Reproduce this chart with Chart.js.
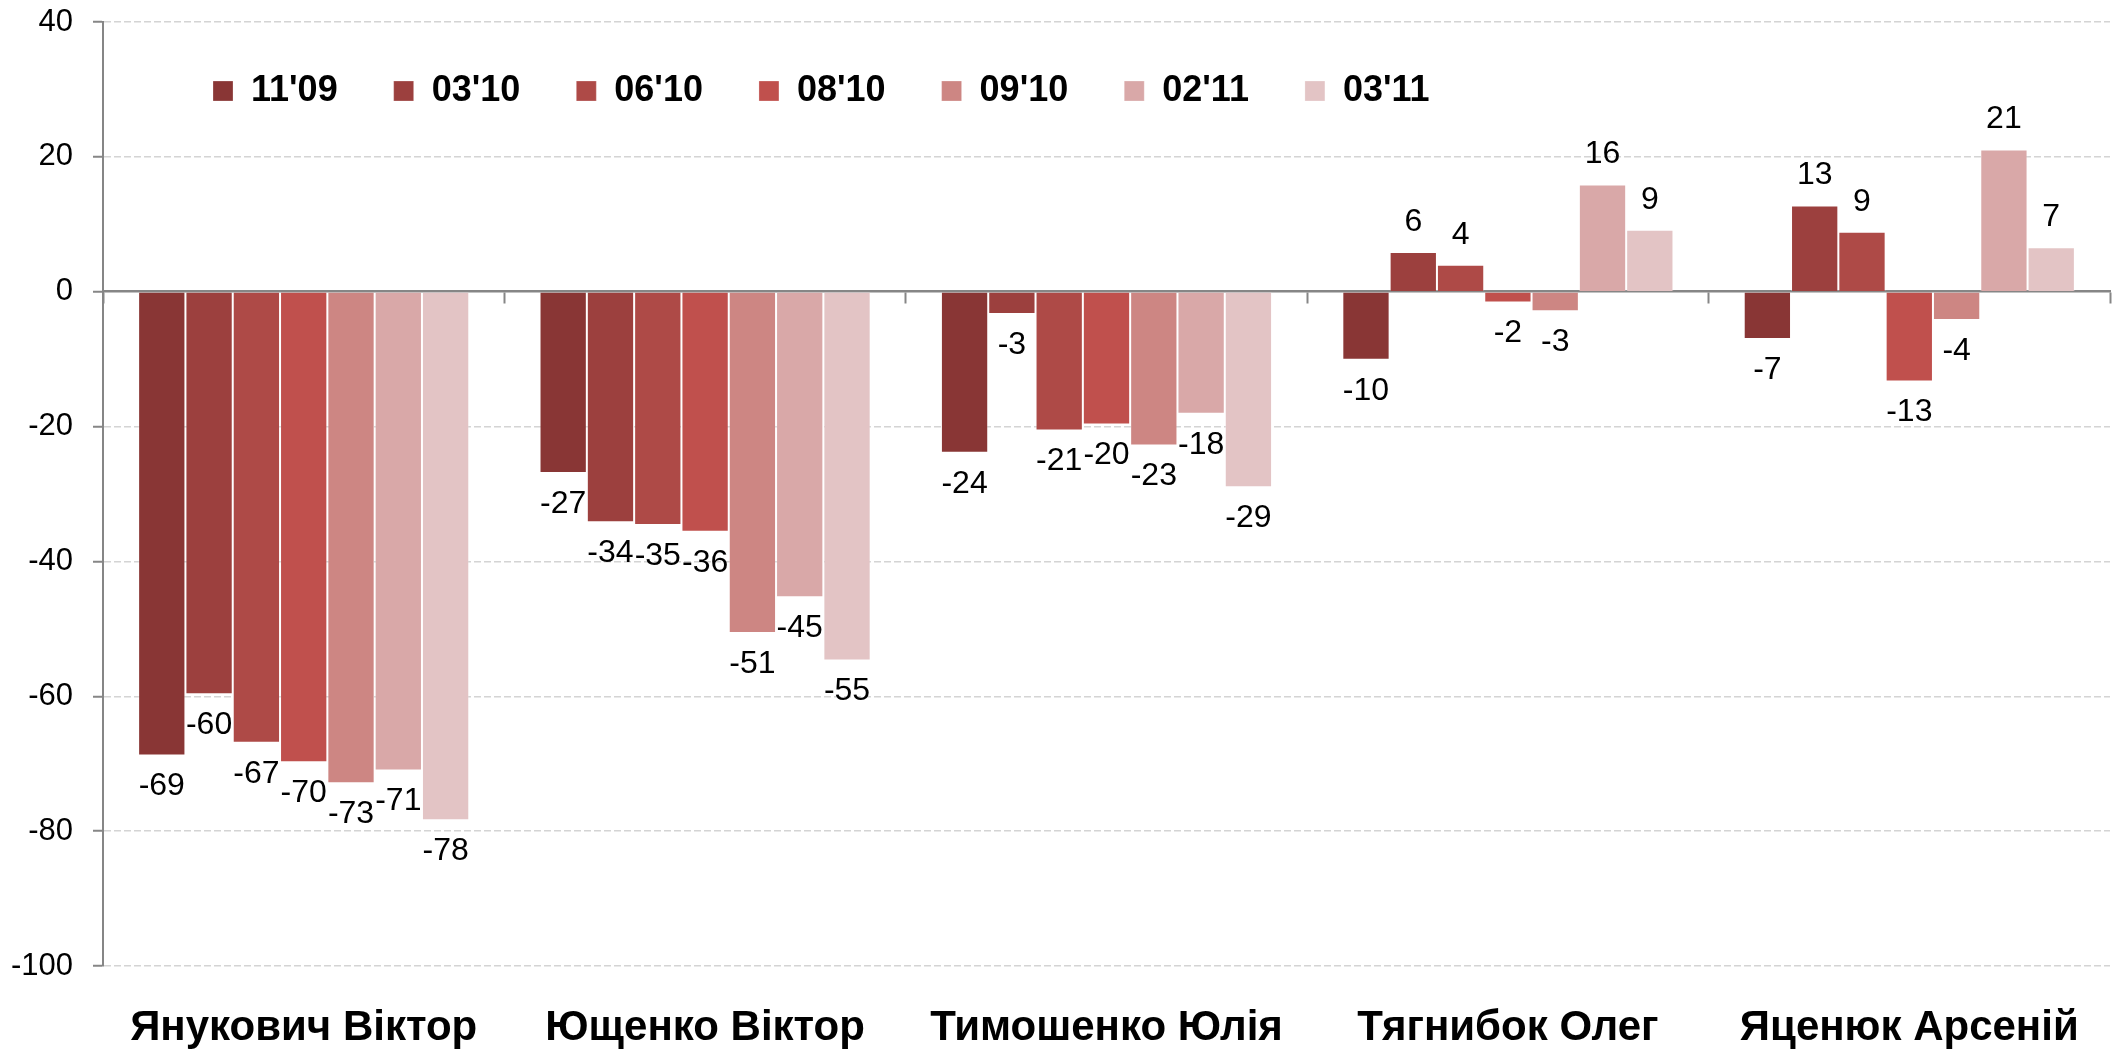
<!DOCTYPE html>
<html>
<head>
<meta charset="utf-8">
<script src="https://cdn.jsdelivr.net/npm/chart.js@4/dist/chart.umd.min.js"></script>
<style>
  html, body { margin: 0; padding: 0; background: #fff; }
  #wrap { width: 2123px; height: 1054px; position: relative; }
</style>
</head>
<body>
<div id="wrap"><canvas id="c"></canvas></div>
<script>
// ---- Data ----
const categories = ['Янукович Віктор', 'Ющенко Віктор', 'Тимошенко Юлія', 'Тягнибок Олег', 'Яценюк Арсеній'];
const seriesNames = ["11'09", "03'10", "06'10", "08'10", "09'10", "02'11", "03'11"];
const s_11_09 = [-68.8, -26.9, -23.9, -10.1, -7.0];
const s_03_10 = [-59.7, -34.2, -3.3, 5.9, 12.8];
const s_06_10 = [-66.9, -34.6, -20.6, 4.0, 8.9];
const s_08_10 = [-69.8, -35.6, -19.7, -1.6, -13.3];
const s_09_10 = [-72.9, -50.6, -22.8, -2.9, -4.2];
const s_02_11 = [-71.0, -45.3, -18.1, 15.9, 21.1];
const s_03_11 = [-78.4, -54.7, -29.0, 9.2, 6.6];
const yMin = -100, yMax = 40, yStep = 20;

// ---- Styles ----
const seriesColors = ['#893635', '#9C403E', '#AE4A47', '#C0504D', '#CD8683', '#D9A8A8', '#E3C4C5'];
const allSeries = [s_11_09, s_03_10, s_06_10, s_08_10, s_09_10, s_02_11, s_03_11];
const FONT = "'Liberation Sans', Arial, sans-serif";
const AXIS_GRAY = '#868686';

Chart.defaults.font.family = FONT;
Chart.defaults.color = '#000';

const datasets = seriesNames.map((name, i) => ({
  label: name,
  data: allSeries[i],
  backgroundColor: seriesColors[i],
  borderColor: 'rgba(255,255,255,0.25)',
  borderWidth: 1,
  categoryPercentage: 0.825,
  barPercentage: 1.0
}));

// Data labels drawn at the bar elements' positions
const valueLabels = {
  id: 'valueLabels',
  afterDatasetsDraw(chart) {
    const ctx = chart.ctx;
    ctx.save();
    ctx.font = '32px ' + FONT;
    ctx.fillStyle = '#000';
    ctx.textAlign = 'center';
    ctx.textBaseline = 'middle';
    chart.data.datasets.forEach((ds, di) => {
      const meta = chart.getDatasetMeta(di);
      meta.data.forEach((el, i) => {
        const v = ds.data[i];
        const y = v >= 0 ? el.y - 30 : el.y + 31;
        ctx.fillText(String(Math.round(v)), el.x, y);
      });
    });
    ctx.restore();
  }
};

// Put the legend inside the plot area like the original
const legendPlacer = {
  id: 'legendPlacer',
  afterLayout(chart) {
    const lg = chart.legend;
    if (!lg) return;
    const pad = lg.options.labels.padding;
    const fs = 36;
    const ca = chart.chartArea;
    lg.left = ca.left + 110 - pad;
    lg.top = ca.top + 69 - pad - fs / 2;
    lg.bottom = lg.top + 200;
  }
};

new Chart(document.getElementById('c'), {
  type: 'bar',
  data: { labels: categories, datasets },
  options: {
    responsive: true,
    maintainAspectRatio: false,
    animation: false,
    devicePixelRatio: 1,
    layout: { padding: { top: 21, right: 13, bottom: 0, left: 0 } },
    plugins: {
      legend: {
        position: 'top',
        align: 'start',
        maxHeight: 1,
        labels: {
          boxWidth: 20,
          boxHeight: 20,
          padding: 56,
          color: '#000',
          font: { size: 36, weight: 'bold', family: FONT }
        }
      },
      tooltip: { enabled: false }
    },
    scales: {
      x: {
        position: 'bottom',
        grid: { display: false, drawTicks: false },
        border: { display: false },
        ticks: { font: { size: 42, weight: 'bold', family: FONT }, color: '#000', padding: 37, maxRotation: 0, autoSkip: false },
        afterFit(scale) { scale.height = 88; scale.paddingLeft = 0; scale.paddingRight = 0; }
      },
      x2: {
        axis: 'x',
        type: 'category',
        position: { y: 0 },
        offset: true,
        grid: { offset: true, drawOnChartArea: false, drawTicks: true, tickLength: 11, tickColor: AXIS_GRAY, tickWidth: 2 },
        border: { display: true, color: AXIS_GRAY, width: 2.5 },
        ticks: { display: false },
        afterFit(scale) { scale.height = 0; scale.paddingLeft = 0; scale.paddingRight = 0; }
      },
      y: {
        min: yMin,
        max: yMax,
        ticks: { stepSize: yStep, font: { size: 31, family: FONT }, color: '#000', padding: 20 },
        grid: {
          color: (ctx) => (ctx.tick && ctx.tick.value === 0) ? 'rgba(0,0,0,0)' : '#d4d4d4',
          lineWidth: 1.5,
          drawTicks: true,
          tickLength: 10,
          tickColor: AXIS_GRAY,
          tickWidth: 2,
          tickBorderDash: []
        },
        border: {
          display: true,
          color: AXIS_GRAY,
          width: 2,
          dash: (ctx) => (ctx.tick && ctx.tick.value !== 0) ? [7, 3] : []
        },
        afterFit(scale) { scale.width = 103; scale.paddingTop = 0; scale.paddingBottom = 0; }
      }
    }
  },
  plugins: [valueLabels, legendPlacer]
});
</script>
</body>
</html>
